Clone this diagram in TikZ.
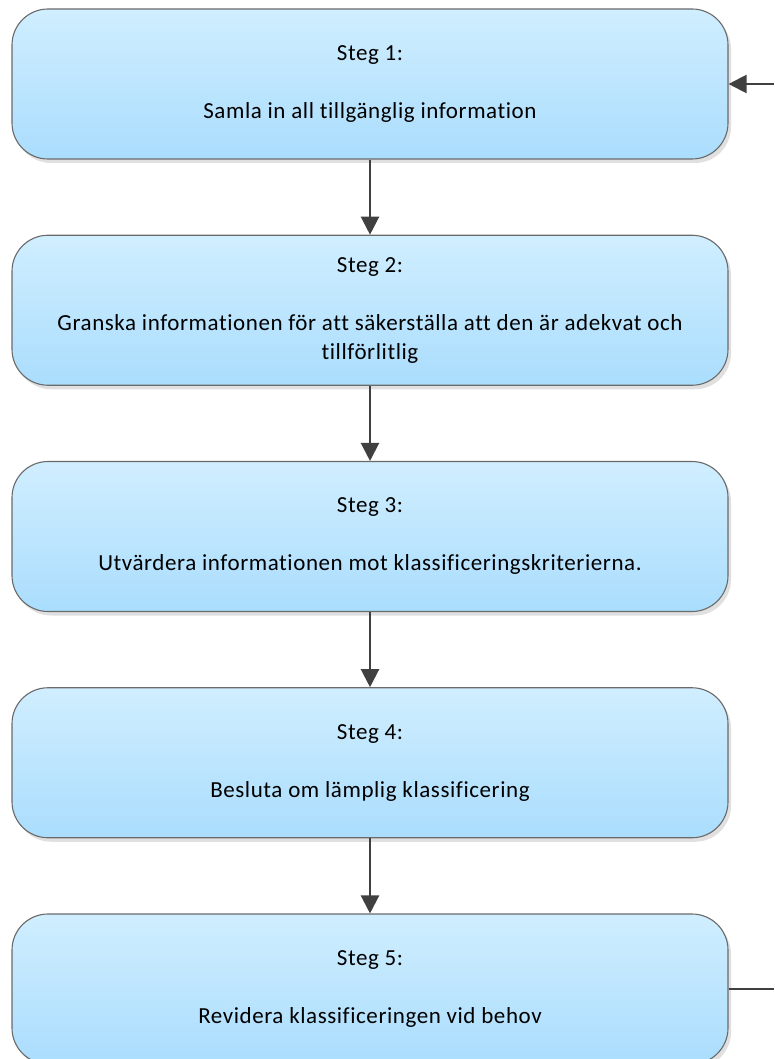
\documentclass[tikz,border=0pt]{standalone}
\usepackage{fontspec}
\setmainfont{Carlito}[Ligatures={NoCommon}, LetterSpace=2.5]
\usetikzlibrary{arrows.meta,shadows}
\definecolor{boxtop}{HTML}{D0EEFF}
\definecolor{boxbot}{HTML}{AADDFD}
\definecolor{boxline}{HTML}{6A6A6A}
\definecolor{arrowcol}{HTML}{404040}
\tikzset{
  stepbox/.style={draw=boxline, line width=1.1pt, rounded corners=36pt,
    top color=boxtop, bottom color=boxbot,
    minimum width=716pt, minimum height=150pt, inner sep=0pt,
    align=center, font=\fontsize{23}{29}\selectfont,
    drop shadow={shadow xshift=3pt, shadow yshift=-4pt, fill=black, opacity=0.12}},
  flow/.style={draw=arrowcol, line width=2.2pt, -{Triangle[width=18pt,length=18pt]}},
  flowline/.style={draw=arrowcol, line width=2.2pt}
}
\begin{document}
\begin{tikzpicture}[x=1pt,y=-1pt]
\useasboundingbox (0,0) rectangle (774,1059);
\node[stepbox] (s1) at (370,84) {Steg 1:\\[29pt]Samla in all tillgänglig information};
\node[stepbox] (s2) at (370,310.25) {Steg 2:\\[29pt]Granska informationen för att säkerställa att den är adekvat och\\tillförlitlig};
\node[stepbox] (s3) at (370,536.5) {Steg 3:\\[29pt]Utvärdera informationen mot klassificeringskriterierna.};
\node[stepbox] (s4) at (370,762.75) {Steg 4:\\[29pt]Besluta om lämplig klassificering};
\node[stepbox] (s5) at (370,989) {Steg 5:\\[29pt]Revidera klassificeringen vid behov};
\coordinate (in1) at (774,84);
\coordinate (out5) at (774,989);
\draw[flow] (s1.south) -- (s2.north);
\draw[flow] (s2.south) -- (s3.north);
\draw[flow] (s3.south) -- (s4.north);
\draw[flow] (s4.south) -- (s5.north);
\draw[flow] (in1) -- (s1.east);
\draw[flowline] (s5.east) -- (out5);
\end{tikzpicture}
\end{document}
